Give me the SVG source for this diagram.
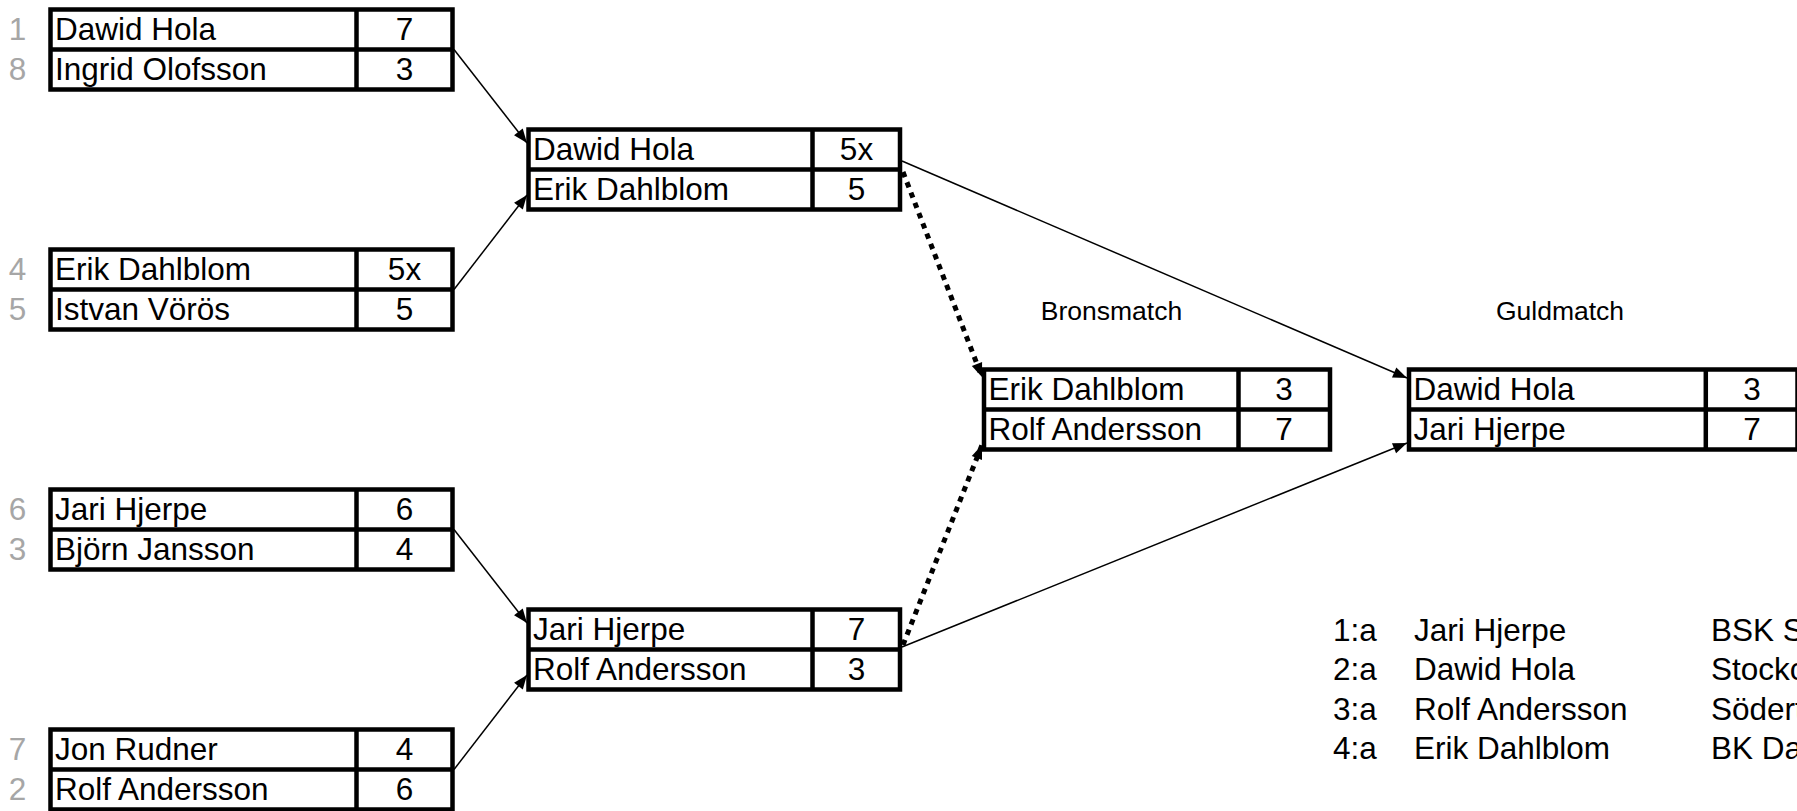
<svg xmlns="http://www.w3.org/2000/svg" width="1797" height="811" viewBox="0 0 1797 811">
<defs>
<style>
text{font-family:"Liberation Sans",Arial,sans-serif;font-size:31.5px;fill:#000}
.seed{fill:#a6a6a6;text-anchor:middle}
.sc{text-anchor:middle}
.lbl{font-size:26.5px;text-anchor:middle}
.box{fill:#fff;stroke:#000;stroke-width:4.5}
.sep{stroke:#000;stroke-width:4.5}
.con{stroke:#000;stroke-width:1.5;fill:none}
.dot{stroke:#000;stroke-width:5;fill:none;stroke-dasharray:5.5 5.5}
</style>
<marker id="ah" markerUnits="userSpaceOnUse" markerWidth="16" markerHeight="12" refX="14" refY="5.5" orient="auto" overflow="visible">
<path d="M0,0 L14,5.5 L0,11 Z" fill="#000"/>
</marker>
</defs>
<rect width="1797" height="811" fill="#fff"/>
<g id="connectors">
<line class="con" x1="454" y1="49.5" x2="527" y2="143" marker-end="url(#ah)"/>
<line class="con" x1="454" y1="289.5" x2="527" y2="195" marker-end="url(#ah)"/>
<line class="con" x1="454" y1="529.5" x2="527" y2="623" marker-end="url(#ah)"/>
<line class="con" x1="454" y1="769.5" x2="527" y2="675" marker-end="url(#ah)"/>
<line class="con" x1="902" y1="161" x2="1407" y2="378" marker-end="url(#ah)"/>
<line class="con" x1="902" y1="647" x2="1407" y2="443" marker-end="url(#ah)"/>
<line class="dot" x1="903" y1="172" x2="982" y2="377" marker-end="url(#ah)"/>
<line class="dot" x1="903" y1="645" x2="982" y2="445" marker-end="url(#ah)"/>
</g>
<g id="r1m1">
<rect class="box" x="50.5" y="9.5" width="402" height="80"/>
<line class="sep" x1="50.5" y1="49.5" x2="452.5" y2="49.5"/>
<line class="sep" x1="356.5" y1="9.5" x2="356.5" y2="89.5"/>
<text class="seed" x="17.5" y="39.5">1</text><text class="seed" x="17.5" y="79.5">8</text>
<text x="55" y="39.5">Dawid Hola</text><text class="sc" x="404.5" y="39.5">7</text>
<text x="55" y="79.5">Ingrid Olofsson</text><text class="sc" x="404.5" y="79.5">3</text>
</g>
<g id="r1m2">
<rect class="box" x="50.5" y="249.5" width="402" height="80"/>
<line class="sep" x1="50.5" y1="289.5" x2="452.5" y2="289.5"/>
<line class="sep" x1="356.5" y1="249.5" x2="356.5" y2="329.5"/>
<text class="seed" x="17.5" y="279.5">4</text><text class="seed" x="17.5" y="319.5">5</text>
<text x="55" y="279.5">Erik Dahlblom</text><text class="sc" x="404.5" y="279.5">5x</text>
<text x="55" y="319.5">Istvan Vörös</text><text class="sc" x="404.5" y="319.5">5</text>
</g>
<g id="r1m3">
<rect class="box" x="50.5" y="489.5" width="402" height="80"/>
<line class="sep" x1="50.5" y1="529.5" x2="452.5" y2="529.5"/>
<line class="sep" x1="356.5" y1="489.5" x2="356.5" y2="569.5"/>
<text class="seed" x="17.5" y="519.5">6</text><text class="seed" x="17.5" y="559.5">3</text>
<text x="55" y="519.5">Jari Hjerpe</text><text class="sc" x="404.5" y="519.5">6</text>
<text x="55" y="559.5">Björn Jansson</text><text class="sc" x="404.5" y="559.5">4</text>
</g>
<g id="r1m4">
<rect class="box" x="50.5" y="729.5" width="402" height="80"/>
<line class="sep" x1="50.5" y1="769.5" x2="452.5" y2="769.5"/>
<line class="sep" x1="356.5" y1="729.5" x2="356.5" y2="809.5"/>
<text class="seed" x="17.5" y="759.5">7</text><text class="seed" x="17.5" y="799.5">2</text>
<text x="55" y="759.5">Jon Rudner</text><text class="sc" x="404.5" y="759.5">4</text>
<text x="55" y="799.5">Rolf Andersson</text><text class="sc" x="404.5" y="799.5">6</text>
</g>
<g id="sf1">
<rect class="box" x="528.5" y="129.5" width="371.5" height="80"/>
<line class="sep" x1="528.5" y1="169.5" x2="900" y2="169.5"/>
<line class="sep" x1="812.5" y1="129.5" x2="812.5" y2="209.5"/>
<text x="533" y="159.5">Dawid Hola</text><text class="sc" x="856.5" y="159.5">5x</text>
<text x="533" y="199.5">Erik Dahlblom</text><text class="sc" x="856.5" y="199.5">5</text>
</g>
<g id="sf2">
<rect class="box" x="528.5" y="609.5" width="371.5" height="80"/>
<line class="sep" x1="528.5" y1="649.5" x2="900" y2="649.5"/>
<line class="sep" x1="812.5" y1="609.5" x2="812.5" y2="689.5"/>
<text x="533" y="639.5">Jari Hjerpe</text><text class="sc" x="856.5" y="639.5">7</text>
<text x="533" y="679.5">Rolf Andersson</text><text class="sc" x="856.5" y="679.5">3</text>
</g>
<g id="bronze">
<text class="lbl" x="1111.5" y="319.5">Bronsmatch</text>
<rect class="box" x="984" y="369.5" width="346" height="80"/>
<line class="sep" x1="984" y1="409.5" x2="1330" y2="409.5"/>
<line class="sep" x1="1238.5" y1="369.5" x2="1238.5" y2="449.5"/>
<text x="988.5" y="399.5">Erik Dahlblom</text><text class="sc" x="1284" y="399.5">3</text>
<text x="988.5" y="439.5">Rolf Andersson</text><text class="sc" x="1284" y="439.5">7</text>
</g>
<g id="gold">
<text class="lbl" x="1560" y="319.5">Guldmatch</text>
<rect class="box" x="1409" y="369.5" width="388.5" height="80"/>
<line class="sep" x1="1409" y1="409.5" x2="1797.5" y2="409.5"/>
<line class="sep" x1="1705.8" y1="369.5" x2="1705.8" y2="449.5"/>
<text x="1413.5" y="399.5">Dawid Hola</text><text class="sc" x="1752" y="399.5">3</text>
<text x="1413.5" y="439.5">Jari Hjerpe</text><text class="sc" x="1752" y="439.5">7</text>
</g>
<g id="results">
<text x="1333" y="640.5">1:a</text><text x="1414" y="640.5">Jari Hjerpe</text><text x="1711" y="640.5">BSK S</text>
<text x="1333" y="680">2:a</text><text x="1414" y="680">Dawid Hola</text><text x="1711" y="680">Stockc</text>
<text x="1333" y="719.5">3:a</text><text x="1414" y="719.5">Rolf Andersson</text><text x="1711" y="719.5">Södert</text>
<text x="1333" y="759">4:a</text><text x="1414" y="759">Erik Dahlblom</text><text x="1711" y="759">BK Da</text>
</g>
</svg>
